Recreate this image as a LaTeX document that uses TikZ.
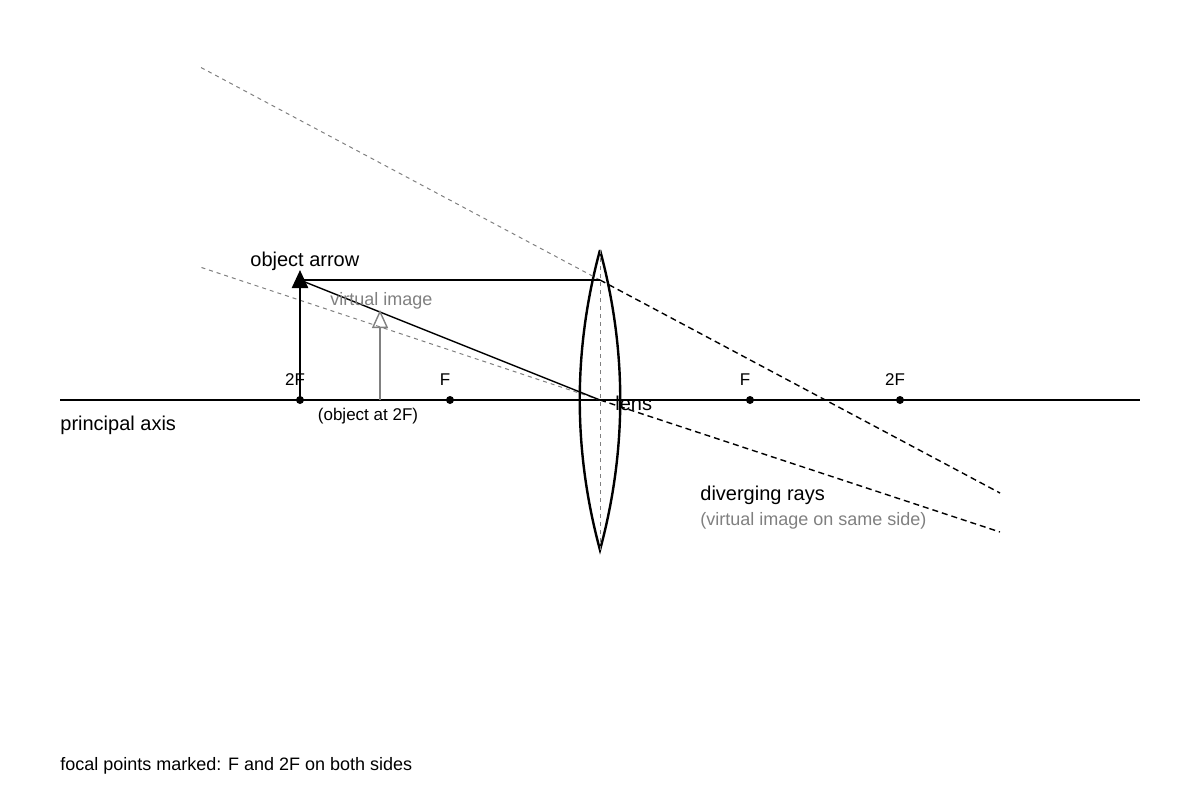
\documentclass[tikz,border=0pt]{standalone}
\usepackage{fontspec}
\setmainfont{Liberation Sans}
\usetikzlibrary{arrows.meta}
\begin{document}
\begin{tikzpicture}[x=0.5pt,y=-0.5pt,
  lbl/.style={inner sep=0pt,font=\fontsize{10}{12}\selectfont},
  sm/.style={inner sep=0pt,font=\fontsize{8.5}{10}\selectfont},
  gr/.style={inner sep=0pt,font=\fontsize{9}{11}\selectfont,text=gray},
  ext/.style={gray,dashed,line width=0.5pt,dash pattern=on 2pt off 2pt},
  ray/.style={black,line width=0.7pt},
  dot/.style={circle,fill=black,inner sep=0pt,minimum size=4pt}]
\useasboundingbox (0,0) rectangle (1200,800);
\coordinate (a0) at (60,400); \coordinate (a1) at (1140,400);
\draw[line width=0.6pt] (a0) -- (a1);
\node[dot] (d1) at (300,400) {}; \node[dot] (d2) at (450,400) {};
\node[dot] (d3) at (750,400) {}; \node[dot] (d4) at (900,400) {};
% lens
\coordinate (lt) at (600,250); \coordinate (lb) at (600,550);
\draw[line width=1.2pt] (lt) .. controls (573,350) and (573,450) .. (lb) .. controls (627,450) and (627,350) .. (lt);
\draw[ext] (lt) -- (lb);
% rays
\coordinate (tip) at (300,280); \coordinate (p1) at (600,280); \coordinate (c) at (600,400);
\coordinate (e1) at (1000,493); \coordinate (e2) at (1000,532);
\coordinate (b1) at (200,67); \coordinate (b2) at (200,267);
\draw[ext] (p1) -- (b1); \draw[ext] (c) -- (b2);
\draw[ray] (tip) -- (p1); \draw[ray] (tip) -- (c);
\draw[ray,dashed,dash pattern=on 3pt off 2pt] (p1) -- (e1);
\draw[ray,dashed,dash pattern=on 3pt off 2pt] (c) -- (e2);
% object
\coordinate (ob) at (300,400);
\draw[line width=1.2pt,-{Triangle[length=9pt,width=8pt]}] (ob) -- (300,270);
\coordinate (vb) at (380,400);
\draw[gray,line width=0.7pt,-{Triangle[open,length=9pt,width=8pt]}] (vb) -- (380,310);
% labels
\node[lbl,anchor=base west] (t1) at (250,266) {object arrow};
\node[gr,anchor=base west] (t2) at (330,305) {virtual image};
\node[sm,anchor=base] (t3) at (295,385) {2F};
\node[sm,anchor=base] (t4) at (445,385) {F};
\node[sm,anchor=base] (t5) at (745,385) {F};
\node[sm,anchor=base] (t6) at (895,385) {2F};
\node[sm,anchor=base] (t7) at (368,420) {(object at 2F)};
\node[lbl,anchor=base west] (t8) at (615,410) {lens};
\node[lbl,anchor=base west] (t9) at (60,430) {principal axis};
\node[lbl,anchor=base west] (t10) at (700,500) {diverging rays};
\node[gr,anchor=base west] (t11) at (700,525) {(virtual image on same side)};
\node[gr,text=black,anchor=base west] (t12) at (60,770) {focal points marked: F and 2F on both sides};
\end{tikzpicture}
\end{document}
